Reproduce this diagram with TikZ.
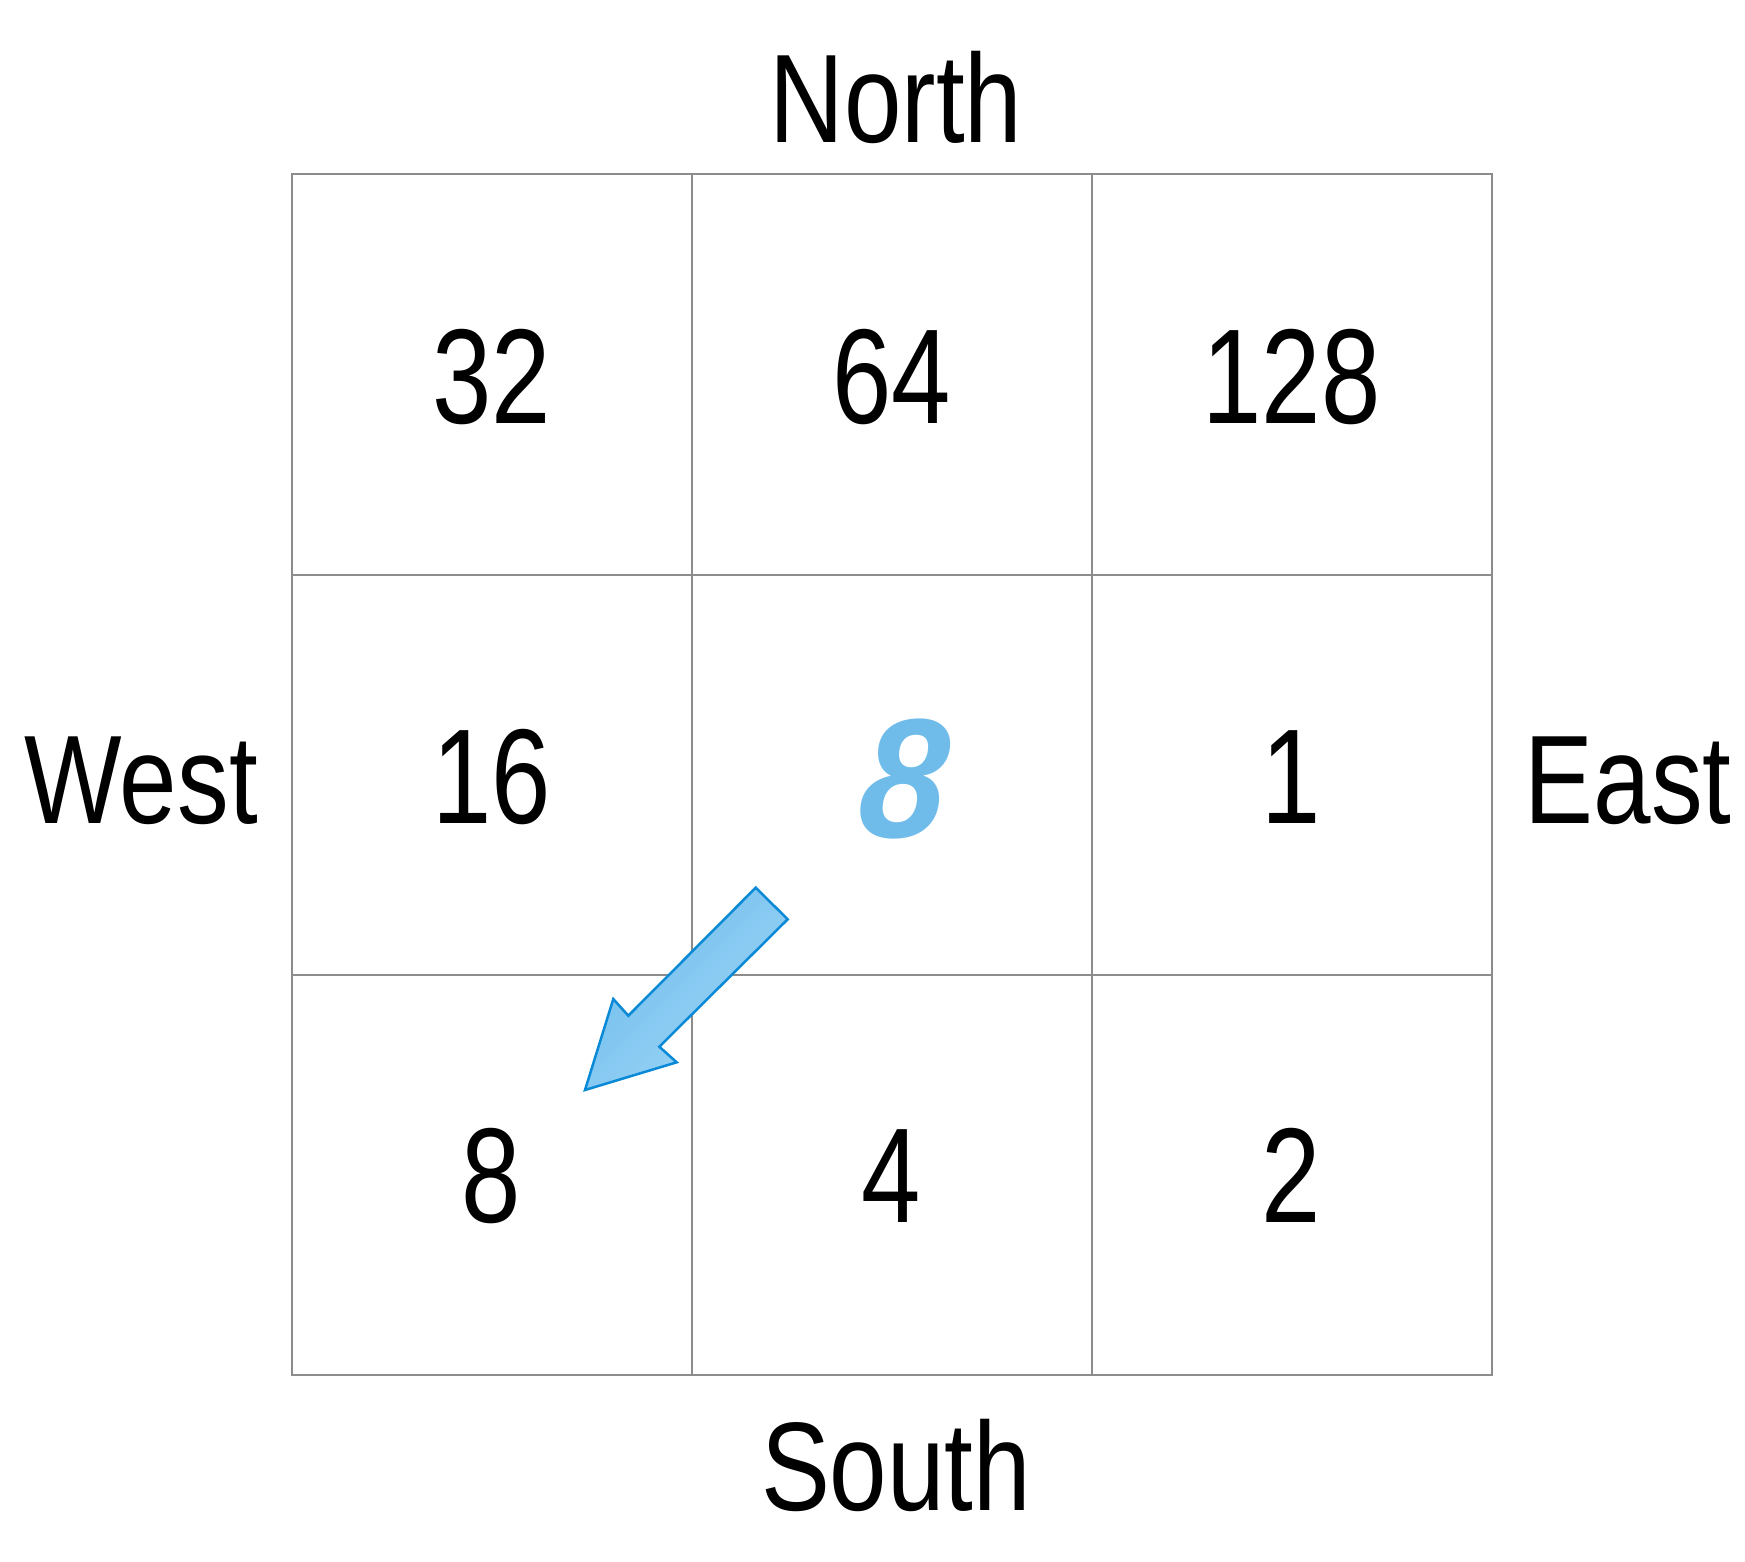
\documentclass[tikz,border=0pt]{standalone}
\usepackage{fontspec}
\setmainfont{Liberation Sans}
\newfontfamily\digitfont[FakeStretch=0.79]{Liberation Sans}
\newfontfamily\labelfont[FakeStretch=0.82]{Liberation Sans}
\newfontfamily\bigfont[FakeStretch=0.92,FakeSlant=0.08]{Liberation Sans Bold Italic}
\definecolor{gridgrey}{HTML}{8C8C8C}
\definecolor{hiblue}{HTML}{6FBCEB}
\definecolor{arrowedge}{HTML}{0A8AD6}
\definecolor{arrowdark}{HTML}{6DBCEC}
\definecolor{arrowlight}{HTML}{A0D6F7}
\tikzset{
  gridline/.style={draw=gridgrey, line width=2pt},
  digit/.style={anchor=base, inner sep=0pt, font=\digitfont\fontsize{135}{150}\selectfont},
  dirlabel/.style={anchor=base, inner sep=0pt, font=\labelfont\fontsize{126}{140}\selectfont},
  centre/.style={anchor=base, inner sep=0pt, text=hiblue, font=\bigfont\fontsize{170}{190}\selectfont},
  bigarrow/.style={draw=arrowedge, line width=2.5pt, line join=miter, top color=arrowdark, bottom color=arrowlight, shading angle=45}
}
\begin{document}
\begin{tikzpicture}[x=1pt,y=-1pt]
\useasboundingbox (0,0) rectangle (1745,1562);
\fill[white] (0,0) rectangle (1745,1562);
% grid
\draw[gridline] (291.5,174.5) rectangle (1491.5,1374.5);
\draw[gridline] (691.5,174.5) -- (691.5,1374.5);
\draw[gridline] (1091.5,174.5) -- (1091.5,1374.5);
\draw[gridline] (291.5,574.5) -- (1491.5,574.5);
\draw[gridline] (291.5,974.5) -- (1491.5,974.5);
% digits
\node[digit] (n32) at (491.5,423) {32};
\node[digit] (n64) at (891.5,423) {64};
\node[digit] (n128) at (1291.5,423) {128};
\node[digit] (n16) at (491.5,823.5) {16};
\node[digit] (n1) at (1291.5,823.5) {1};
\node[digit] (n8) at (491.5,1222) {8};
\node[digit] (n4) at (891.5,1222) {4};
\node[digit] (n2) at (1291.5,1222) {2};
\node[centre] (c8) at (900,837) {8};
% labels
\node[dirlabel] (north) at (896,142.5) {North};
\node[dirlabel] (south) at (896,1510) {South};
\node[dirlabel] (west) at (141,823.5) {West};
\node[dirlabel] (east) at (1628,823.5) {East};
% arrow
\path[bigarrow] (755.7,887.7) -- (787.7,919.3) -- (659.3,1046.7) -- (676.7,1062.3)
  -- (585,1090) -- (613.3,999) -- (628.3,1015.7) -- cycle;
\end{tikzpicture}
\end{document}
